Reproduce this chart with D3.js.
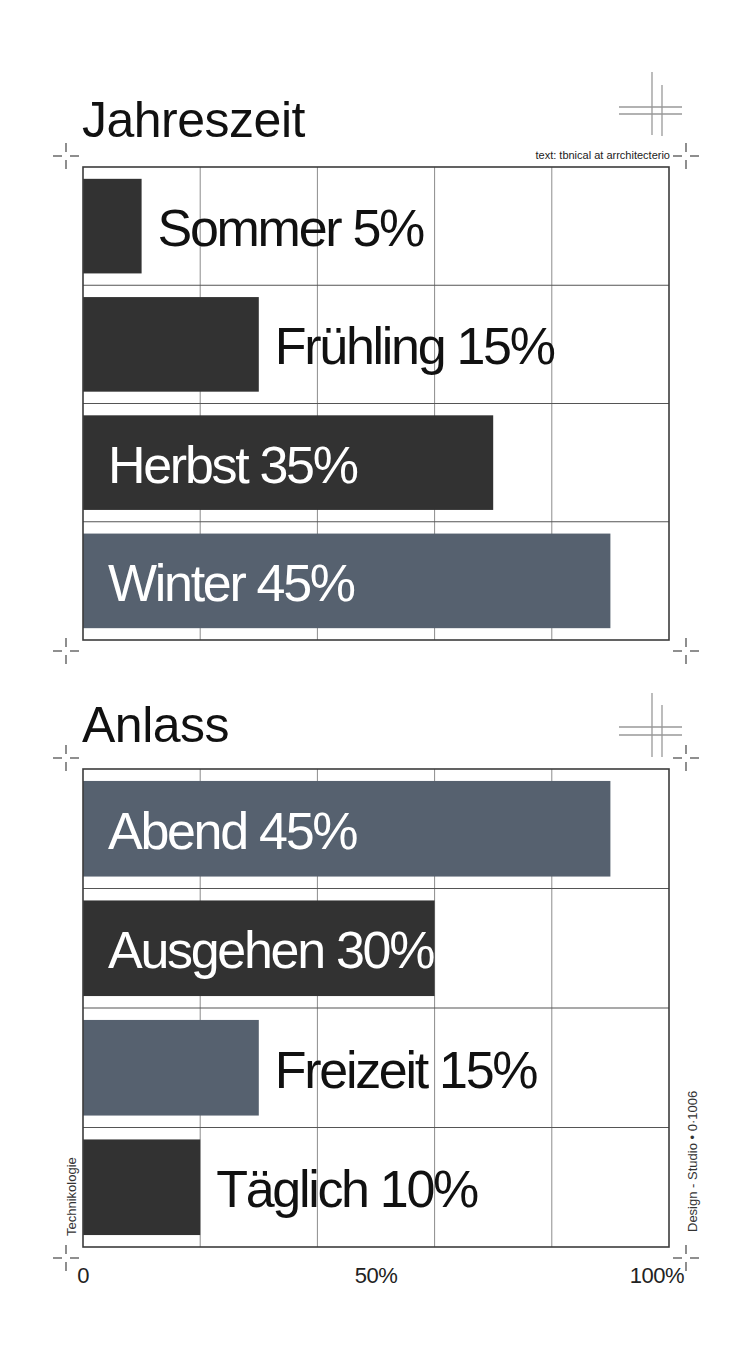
<!doctype html>
<html lang="de">
<head>
<meta charset="utf-8">
<title>Jahreszeit / Anlass</title>
<script src="https://cdn.jsdelivr.net/npm/d3@7/dist/d3.min.js"></script>
<style>
  html, body { margin: 0; padding: 0; background: #fff; }
  svg { display: block; font-family: "Liberation Sans", Arial, sans-serif; }
</style>
</head>
<body>
<svg id="chart" width="753" height="1350"></svg>
<script>
// --- data ---
const seasonCats = ["Sommer", "Frühling", "Herbst", "Winter"];
const seasonVals = [5, 15, 35, 45];
const occasionCats = ["Abend", "Ausgehen", "Freizeit", "Täglich"];
const occasionVals = [45, 30, 15, 10];
const tickVals = [0, 25, 50];
const tickLabels = ["0", "50%", "100%"];

const DARK = "#323232";
const SLATE = "#56616f";

const seasonColors = [DARK, DARK, DARK, SLATE];
const occasionColors = [SLATE, DARK, SLATE, DARK];

const panels = [
    { title: "Jahreszeit", cats: seasonCats, vals: seasonVals, colors: seasonColors,
      top: 167, bottom: 640, titleY: 137, note: "text: tbnical at arrchitecterio",
      deco: { v1: [72, 135], v2: [85, 136], h: [107, 114] } },
    { title: "Anlass", cats: occasionCats, vals: occasionVals, colors: occasionColors,
      top: 769, bottom: 1247, titleY: 742, note: null,
      deco: { v1: [693, 757], v2: [705, 757], h: [727, 735] } }
];

const svg = d3.select("#chart");
const left = 83, right = 669;

// bars are plotted against 0..50 -> full width
const x = d3.scaleLinear().domain([0, 50]).range([left, right]);

function crosshair(g, cx, cy) {
    const c = g.append("g").attr("stroke", "#444").attr("stroke-width", 1.2);
    c.append("line").attr("x1", cx - 13).attr("x2", cx - 4).attr("y1", cy).attr("y2", cy);
    c.append("line").attr("x1", cx + 4).attr("x2", cx + 13).attr("y1", cy).attr("y2", cy);
    c.append("line").attr("x1", cx).attr("x2", cx).attr("y1", cy - 13).attr("y2", cy - 4);
    c.append("line").attr("x1", cx).attr("x2", cx).attr("y1", cy + 4).attr("y2", cy + 13);
}

panels.forEach(p => {
    const g = svg.append("g");
    const y = d3.scaleBand()
        .domain(p.cats)
        .range([p.top, p.bottom])
        .paddingInner(0.2)
        .paddingOuter(0.1);

    // title
    g.append("text")
        .attr("x", 82).attr("y", p.titleY)
        .attr("font-size", 50).attr("letter-spacing", -0.5)
        .attr("fill", "#111")
        .text(p.title);

    if (p.note) {
        g.append("text")
            .attr("x", right + 1).attr("y", p.top - 8)
            .attr("text-anchor", "end")
            .attr("font-size", 11).attr("fill", "#222")
            .text(p.note);
    }

    // decoration lines top-right
    const d = g.append("g").attr("stroke", "#999").attr("stroke-width", 1.3);
    d.append("line").attr("x1", 652).attr("x2", 652).attr("y1", p.deco.v1[0]).attr("y2", p.deco.v1[1]);
    d.append("line").attr("x1", 662).attr("x2", 662).attr("y1", p.deco.v2[0]).attr("y2", p.deco.v2[1]);
    p.deco.h.forEach(hy => {
        d.append("line").attr("x1", 619).attr("x2", 682).attr("y1", hy).attr("y2", hy);
    });

    // vertical grid
    g.selectAll(".vgrid")
        .data(d3.range(10, 50, 10))
        .join("line")
        .attr("x1", v => x(v)).attr("x2", v => x(v))
        .attr("y1", p.top).attr("y2", p.bottom)
        .attr("stroke", "#8c8c8c").attr("stroke-width", 1);

    // row separators
    const step = y.step();
    g.selectAll(".hgrid")
        .data(d3.range(1, p.cats.length))
        .join("line")
        .attr("x1", left).attr("x2", right)
        .attr("y1", i => p.top + i * step).attr("y2", i => p.top + i * step)
        .attr("stroke", "#555").attr("stroke-width", 1.2);

    // bars
    g.selectAll(".bar")
        .data(p.cats)
        .join("rect")
        .attr("x", x(0))
        .attr("y", c => y(c))
        .attr("width", (c, i) => x(p.vals[i]) - x(0))
        .attr("height", y.bandwidth())
        .attr("fill", (c, i) => p.colors[i]);

    // labels
    g.selectAll(".lbl")
        .data(p.cats)
        .join("text")
        .attr("x", (c, i) => p.vals[i] >= 30 ? x(0) + 25 : x(p.vals[i]) + 16)
        .attr("y", c => y(c) + y.bandwidth() / 2 + 20)
        .attr("font-size", 52).attr("letter-spacing", -2.3)
        .attr("fill", (c, i) => p.vals[i] >= 30 ? "#fff" : "#111")
        .text((c, i) => c + " " + p.vals[i] + "%");

    // frame
    g.append("rect")
        .attr("x", left).attr("y", p.top)
        .attr("width", right - left).attr("height", p.bottom - p.top)
        .attr("fill", "none").attr("stroke", "#3c3c3c").attr("stroke-width", 1.6);

    crosshair(g, 66, p.top - 11);
    crosshair(g, 686, p.top - 11);
    crosshair(g, 66, p.bottom + 11);
    crosshair(g, 686, p.bottom + 11);
});

// bottom axis labels
const last = panels[panels.length - 1];
svg.append("g")
    .selectAll("text")
    .data(tickVals)
    .join("text")
    .attr("x", (v, i) => i === tickVals.length - 1 ? x(v) + 15 : x(v))
    .attr("y", last.bottom + 36)
    .attr("text-anchor", (v, i) => i === tickVals.length - 1 ? "end" : "middle")
    .attr("font-size", 22).attr("letter-spacing", -0.5)
    .attr("fill", "#222")
    .text((v, i) => tickLabels[i]);

// side texts
svg.append("text")
    .attr("transform", "translate(76,1236) rotate(-90)")
    .attr("font-size", 13).attr("fill", "#333")
    .text("Technikologie");

svg.append("text")
    .attr("transform", "translate(697,1232) rotate(-90)")
    .attr("font-size", 13).attr("fill", "#333")
    .text("Design - Studio • 0·1006");
</script>
</body>
</html>
